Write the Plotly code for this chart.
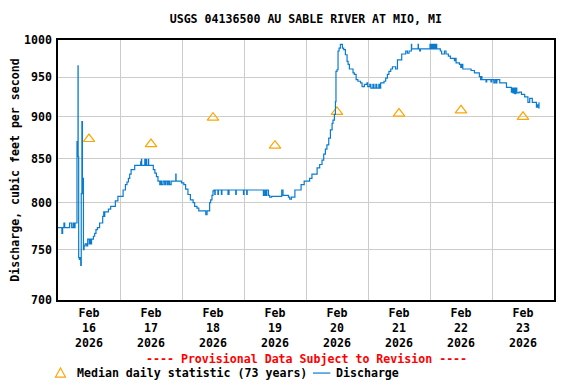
import math
import pandas as pd
import plotly.graph_objects as go

# ---------------- data ----------------
title_text = "USGS 04136500 AU SABLE RIVER AT MIO, MI"
y_title = "Discharge, cubic feet per second"
provisional_text = "---- Provisional Data Subject to Revision ----"
median_label = "Median daily statistic (73 years)"
discharge_label = "Discharge"
start_time = "2026-02-16 00:00"

# hours since 2026-02-16 00:00, discharge in cfs (step values)
discharge_hours = [
    0.0, 1.5, 1.8, 2.3, 2.6, 4.5, 5.3, 5.9, 6.3, 6.6,
    7.35, 7.5, 7.6, 7.75, 7.8, 8.0, 8.25, 8.6, 8.8, 9.0,
    9.25, 9.45, 9.6, 9.7, 9.85, 10.1, 10.5, 11.1, 11.5, 12.1,
    12.3, 12.7, 13.0, 13.7, 14.2, 14.7, 15.25, 16.1, 17.3, 17.7,
    17.9, 18.1, 19.5, 20.4, 22.2, 23.2,
    25.2, 26.1, 26.7, 27.25, 27.75, 28.3, 29.7, 32.0, 32.3, 32.4,
    33.6, 33.8, 34.1, 34.3, 35.0, 35.1, 36.9, 37.5, 38.1, 38.7,
    39.4, 39.75, 40.1, 40.7, 41.3, 41.7, 42.3, 42.7, 43.2, 43.8,
    45.6, 45.7, 47.8,
    48.7, 49.4, 50.3, 51.25, 52.3, 52.9, 53.8, 54.5, 57.2, 57.7,
    58.7, 59.1, 59.6, 60.0, 60.4, 60.7, 60.85, 61.9, 62.1, 63.25,
    63.45, 65.8, 66.2, 68.8, 69.0, 71.8, 72.0,
    73.05, 73.25, 79.5, 80.0, 80.4, 80.8, 81.45, 81.95, 82.7, 86.6,
    87.1, 89.2, 89.7, 90.35, 91.7, 94.1,
    95.3, 97.4, 98.3, 100.3, 101.3, 102.2, 102.85, 103.5, 104.1, 104.8,
    105.45, 106.1, 106.45, 107.0, 107.4, 107.6, 108.0, 108.4, 108.8, 109.3,
    110.1, 110.6, 111.25, 111.9, 112.3, 112.8, 114.2, 114.7, 115.4, 116.1,
    117.1, 117.7, 118.6, 119.6,
    119.9, 120.7, 121.1, 121.9, 122.3, 123.05, 123.4, 124.2, 124.65, 124.9,
    126.2, 126.85, 127.5, 128.1, 128.8, 129.45, 130.7, 131.4, 133.05, 134.6,
    135.25, 135.9, 136.8, 136.9, 139.4, 139.5, 140.0, 140.3, 144.0, 144.3,
    144.65, 144.85, 145.2, 145.4, 145.8, 146.1, 146.5, 146.6, 148.0, 148.5,
    149.6, 150.2, 151.1, 151.9, 153.45, 153.7, 154.1, 155.4, 155.9, 156.3,
    156.7, 159.9, 161.2, 163.1, 163.6, 164.0, 164.1, 165.7, 165.95, 167.6,
    167.9,
    168.7, 169.2, 169.7, 169.9, 171.0, 173.6, 175.5, 175.7, 176.1, 176.4,
    176.8, 177.2, 177.6, 178.45, 179.4, 180.65, 181.9, 182.6, 183.6, 185.2,
    185.6, 186.1, 186.2,
]
discharge_cfs = [
    773, 767, 773, 778, 773, 778, 773, 778, 773, 778,
    870, 852, 870, 965, 852, 742, 740, 742, 734, 810,
    894, 827, 810, 827, 750, 754, 756, 754, 761, 756,
    761, 756, 761, 764, 767, 771, 773, 778, 785, 790,
    785, 790, 793, 796, 802, 807,
    814, 820, 823, 827, 832, 837, 842, 846, 849, 842,
    849, 842, 849, 842, 849, 842, 837, 833, 829, 824,
    820, 824, 820, 824, 820, 824, 820, 824, 820, 824,
    832, 824, 822,
    820, 815, 809, 803, 800, 796, 794, 791, 787, 791,
    800, 803, 808, 813, 814, 809, 814, 809, 814, 809,
    814, 809, 814, 809, 814, 809, 814,
    809, 814, 808, 814, 808, 814, 808, 806, 807, 814,
    808, 806, 804, 806, 814, 820,
    824, 827, 832, 839, 843, 848, 855, 861, 866, 874,
    884, 892, 896, 903, 919, 958, 960, 985, 989, 994,
    989, 987, 980, 971, 967, 961, 956, 954, 947, 945,
    943, 938, 941, 943,
    938, 941, 936, 941, 936, 941, 936, 941, 936, 943,
    945, 949, 954, 958, 961, 964, 961, 973, 981, 985,
    982, 985, 994, 988, 994, 988, 985, 988, 994, 988,
    994, 988, 994, 988, 994, 988, 994, 988, 985, 981,
    985, 981, 978, 975, 972, 975, 969, 967, 963, 967,
    961, 959, 956, 951, 947, 951, 947, 944, 947, 944,
    947,
    943, 947, 943, 947, 943, 937, 931, 936, 930, 936,
    929, 936, 930, 931, 928, 925, 918, 923, 918, 912,
    915, 911, 918,
]

median_dates = ["2026-02-16 12:00", "2026-02-17 12:00", "2026-02-18 12:00",
                "2026-02-19 12:00", "2026-02-20 12:00", "2026-02-21 12:00",
                "2026-02-22 12:00", "2026-02-23 12:00"]
median_cfs = [873, 867, 899, 865, 906, 904, 908, 900]

x_tick_vals = median_dates
x_tick_text = ["Feb<br>16<br>2026", "Feb<br>17<br>2026", "Feb<br>18<br>2026",
               "Feb<br>19<br>2026", "Feb<br>20<br>2026", "Feb<br>21<br>2026",
               "Feb<br>22<br>2026", "Feb<br>23<br>2026"]
day_bounds = ["2026-02-16", "2026-02-17", "2026-02-18", "2026-02-19", "2026-02-20",
              "2026-02-21", "2026-02-22", "2026-02-23", "2026-02-24"]
y_tick_vals = [700, 750, 800, 850, 900, 950, 1000]
y_tick_text = ["700", "750", "800", "850", "900", "950", "1000"]

# ---------------- figure ----------------
FONT = "DejaVu Sans Mono"
FS = 11.6
ORANGE = "#FFA500"
BLUE = "#0a7cd0"
# the page body has an 8px margin, so the figure is 8px smaller than the window
FIG_W, FIG_H = 568, 376
times = pd.Timestamp(start_time) + pd.to_timedelta(discharge_hours, unit="h")


def bold(s):
    return "<b>" + s.replace("<br>", "</b><br><b>") + "</b>"


fig = go.Figure()
fig.add_trace(go.Scatter(
    x=median_dates, y=median_cfs, mode="markers", name=median_label,
    marker=dict(symbol="triangle-up-open", size=10, color=ORANGE,
                line=dict(width=1.2, color=ORANGE)),
    showlegend=False,
))
fig.add_trace(go.Scatter(
    x=times, y=discharge_cfs, mode="lines", line_shape="hv", name=discharge_label,
    line=dict(color=BLUE, width=1.2), showlegend=False,
))

# legend row (drawn below the plot, as in the reference)
leg_y = -0.281
fig.add_shape(type="path", xref="paper", yref="paper",
              xsizemode="pixel", ysizemode="pixel", xanchor=0.005, yanchor=leg_y,
              path="M-5,-4 L5,-4 L0,5 Z", line=dict(color=ORANGE, width=1.2))
fig.add_shape(type="line", xref="paper", yref="paper",
              x0=0.514, x1=0.549, y0=leg_y, y1=leg_y, line=dict(color=BLUE, width=1.2))

fig.update_layout(
    width=FIG_W, height=FIG_H,
    margin=dict(l=50, r=22, t=32, b=84, autoexpand=False),
    paper_bgcolor="white", plot_bgcolor="white",
    font=dict(family=FONT, size=FS, color="black"),
    title=dict(text=bold(title_text), x=297.8 / FIG_W, xanchor="center",
               y=1 - 11 / FIG_H, yanchor="middle",
               font=dict(family=FONT, size=FS, color="black")),
    showlegend=False,
    annotations=[
        dict(text=bold(provisional_text), xref="paper", yref="paper",
             x=0.5, y=-0.225, xanchor="center", yanchor="middle", showarrow=False,
             font=dict(family=FONT, size=FS, color="#FF0000")),
        dict(text=bold(median_label), xref="paper", yref="paper",
             x=0.034, y=leg_y, xanchor="left", yanchor="middle", showarrow=False,
             font=dict(family=FONT, size=FS, color="black")),
        dict(text=bold(discharge_label), xref="paper", yref="paper",
             x=0.557, y=leg_y, xanchor="left", yanchor="middle", showarrow=False,
             font=dict(family=FONT, size=FS, color="black")),
    ],
)

fig.update_xaxes(
    type="date",
    range=[day_bounds[0], day_bounds[-1]],
    tickmode="array", tickvals=x_tick_vals,
    ticktext=[bold(t) for t in x_tick_text],
    showgrid=False, ticks="", ticklabelstandoff=1,
    minor=dict(tickmode="array", tickvals=day_bounds, showgrid=True,
               gridcolor="#cccccc", gridwidth=1, ticks=""),
    showline=True, linecolor="black", linewidth=1.5, mirror=True,
    tickfont=dict(family=FONT, size=FS, color="black"),
    zeroline=False, automargin=False,
)
fig.update_yaxes(
    type="log",
    range=[math.log10(700), math.log10(1000)],
    tickmode="array", tickvals=y_tick_vals,
    ticktext=[bold(t) for t in y_tick_text],
    showgrid=True, gridcolor="#cccccc", gridwidth=1,
    showline=True, linecolor="black", linewidth=1.5, mirror=True,
    ticks="", ticklabelstandoff=2,
    tickfont=dict(family=FONT, size=FS, color="black"),
    title=dict(text=bold(y_title), standoff=4,
               font=dict(family=FONT, size=FS, color="black")),
    zeroline=False, automargin=False,
)

fig.write_html("out.html")
